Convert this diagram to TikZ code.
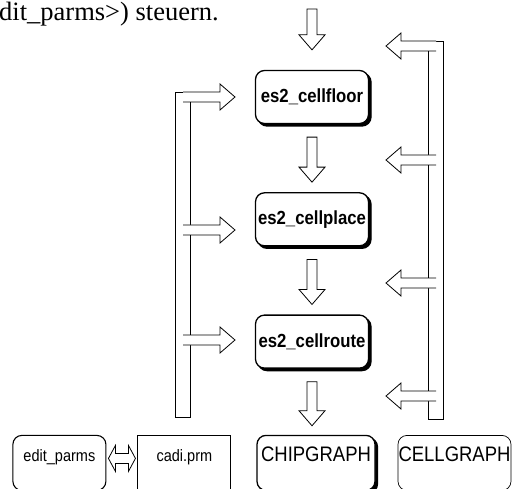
\documentclass[tikz,border=0pt]{standalone}
\usepackage{fontspec}
\setmainfont{Liberation Serif}
\setsansfont{Liberation Sans}[FakeStretch=0.88]
\usetikzlibrary{calc,positioning,shadows}

\newcommand\fatarrow[3][--cycle]{%
  \coordinate (fa-h) at ($(#3)!15pt!(#2)$);
  \filldraw[fat] ($(#2)!5pt!90:(#3)$) -- ($(fa-h)!5pt!90:(#3)$)
    -- ($(fa-h)!13pt!90:(#3)$) -- (#3) -- ($(fa-h)!13pt!-90:(#3)$)
    -- ($(fa-h)!5pt!-90:(#3)$) -- ($(#2)!5pt!-90:(#3)$) #1;}
\newcommand\fatboth[2]{%
  \coordinate (fb-a) at ($(#1)!7pt!(#2)$);
  \coordinate (fb-b) at ($(#2)!7pt!(#1)$);
  \filldraw[fat] (#1) -- ($(fb-a)!13pt!90:(#2)$) -- ($(fb-a)!5pt!90:(#2)$)
    -- ($(fb-b)!5pt!-90:(#1)$) -- ($(fb-b)!13pt!-90:(#1)$) -- (#2)
    -- ($(fb-b)!13pt!90:(#1)$) -- ($(fb-b)!5pt!90:(#1)$)
    -- ($(fb-a)!5pt!-90:(#2)$) -- ($(fb-a)!13pt!-90:(#2)$) -- cycle;}

\begin{document}
\begin{tikzpicture}[
  x=1pt,y=-1pt,node distance=68pt,
  shadowed/.style={copy shadow={fill=black,shadow xshift=2.5pt,shadow yshift=-2.5pt}},
  tool/.style={draw,line width=1.3pt,rounded corners=9pt,fill=white,shadowed,
    minimum width=113pt,minimum height=53pt,inner sep=0pt,
    font=\sffamily\bfseries\fontsize{19}{21}\selectfont},
  file/.style={draw,line width=0.9pt,fill=white,minimum height=55pt,
    inner sep=0pt,text height=14pt,text depth=16pt,
    font=\sffamily\fontsize{16.5}{18}\selectfont},
  bus/.style={draw,line width=0.8pt,fill=white,minimum width=15pt,inner sep=0pt},
  fat/.style={draw,line width=0.8pt,fill=white,line join=miter}
]
\useasboundingbox (0,0) rectangle (514,489);
\node[anchor=base west,inner sep=0pt,font=\fontsize{26.5}{30}\selectfont]
  (steuern) at (-1,21) {dit\_parms>) steuern.};

\node[tool] (floor) at (312,97) {es2\_cellfloor};
\node[tool,below=of floor] (place) {es2\_cellplace};
\node[tool,below=of place] (route) {es2\_cellroute};
\node[file,rounded corners=9pt,line width=1.3pt,shadowed,minimum width=118pt,
  font=\sffamily\fontsize{21}{23}\selectfont,below=66pt of route,xshift=4pt] (chip) {CHIPGRAPH};
\node[file,minimum width=93pt,left=25pt of chip] (prm) {cadi.prm};
\node[file,rounded corners=9pt,line width=1.1pt,minimum width=93pt,left=31pt of prm] (edit) {edit\_parms};
\node[file,rounded corners=9pt,line width=0.7pt,minimum width=113pt,
  font=\sffamily\fontsize{21}{23}\selectfont,right=22pt of chip] (cell) {CELLGRAPH};

\node[bus,minimum height=325pt] (lbus) at (183,254.5) {};
\node[bus,minimum height=378pt] (rbus) at (436,230) {};

\coordinate (feed) at (312,9);
\coordinate (lt1) at (235,97);
\coordinate (lt2) at (235,230);
\coordinate (lt3) at (235,340);
\coordinate (rt1) at (386,46);
\coordinate (rt2) at (386,160);
\coordinate (rt3) at (386,283);
\coordinate (rt4) at (386,396);
\coordinate (chiptop) at (route.south |- chip.north);
\coordinate (eout) at ([shift={(2pt,4.5pt)}]edit.east);
\coordinate (pin) at ([shift={(-2pt,4.5pt)}]prm.west);

\fatarrow{feed}{[yshift=20pt]floor.north}
\fatarrow{[yshift=-13pt]floor.south}{[yshift=10pt]place.north}
\fatarrow{[yshift=-13pt]place.south}{[yshift=10pt]route.north}
\fatarrow{[yshift=-13pt]route.south}{[yshift=9pt]chiptop}

\fatarrow[]{lbus.center |- lt1}{lt1}
\fatarrow[]{lbus.center |- lt2}{lt2}
\fatarrow[]{lbus.center |- lt3}{lt3}
\fatarrow[]{rbus.center |- rt1}{rt1}
\fatarrow[]{rbus.center |- rt2}{rt2}
\fatarrow[]{rbus.center |- rt3}{rt3}
\fatarrow[]{rbus.center |- rt4}{rt4}

\fatboth{eout}{pin}
\end{tikzpicture}
\end{document}
